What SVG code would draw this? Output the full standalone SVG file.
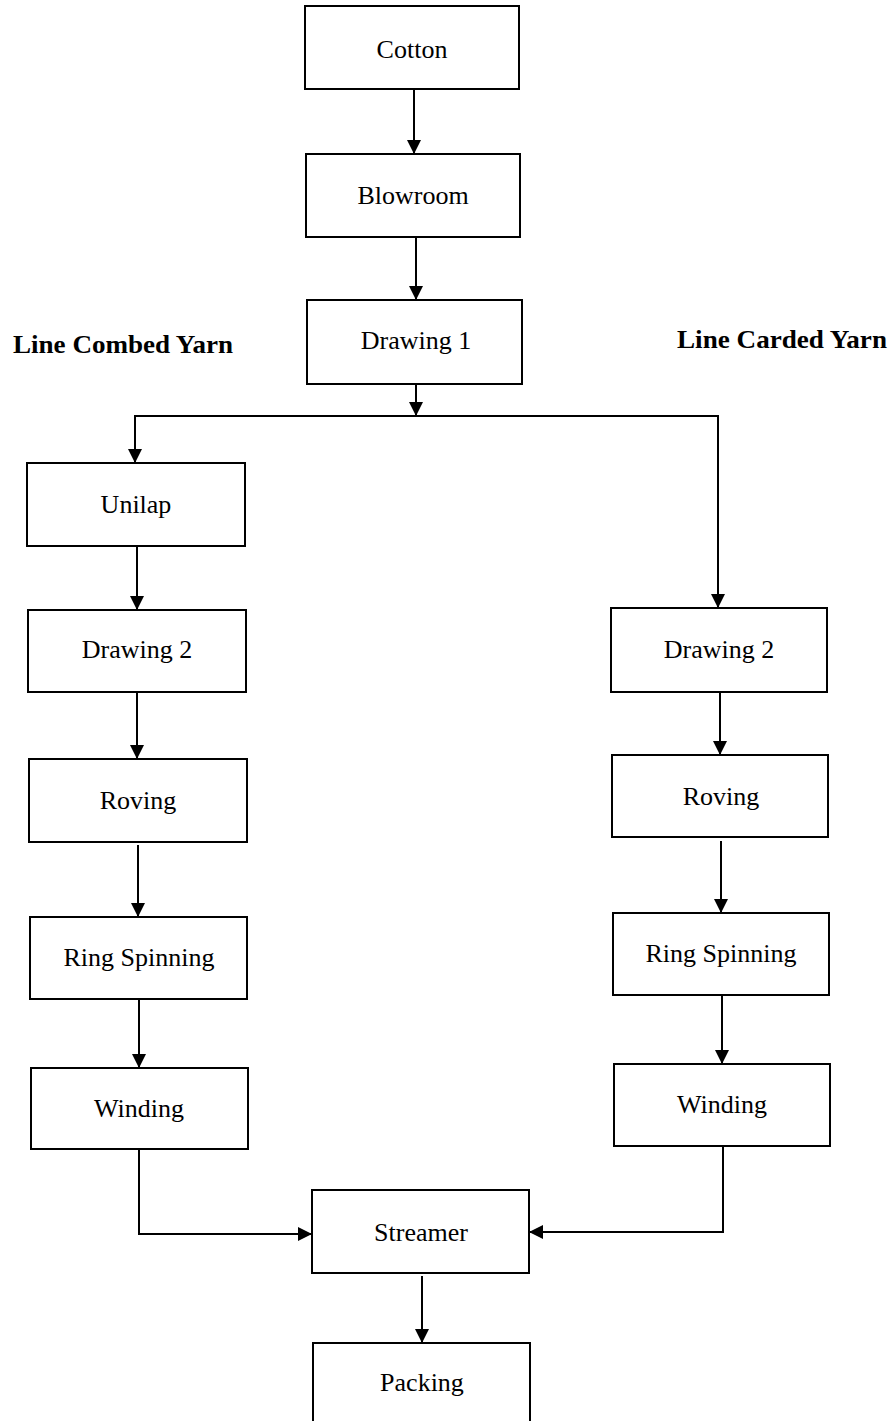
<svg xmlns="http://www.w3.org/2000/svg" width="894" height="1421" viewBox="0 0 894 1421">
<style>
.box{fill:#fff;stroke:#000;stroke-width:2}
.lbl{font-family:"Liberation Serif","Times New Roman",serif;font-size:26px;text-anchor:middle;fill:#000}
.head{font-family:"Liberation Serif","Times New Roman",serif;font-size:26px;font-weight:bold;fill:#000}
.con{fill:none;stroke:#000;stroke-width:2}
</style>
<defs>
<marker id="arr" markerUnits="userSpaceOnUse" markerWidth="14" markerHeight="14" refX="14" refY="7" orient="auto">
<path d="M0,0 L14,7 L0,14 z" fill="#000"/>
</marker>
</defs>
<rect width="894" height="1421" fill="#fff"/>
<text class="head" x="13" y="353" textLength="220" lengthAdjust="spacingAndGlyphs">Line Combed Yarn</text>
<text class="head" x="677" y="348" textLength="210" lengthAdjust="spacingAndGlyphs">Line Carded Yarn</text>
<g id="connectors">
<path class="con" d="M414,89 V154" marker-end="url(#arr)"/>
<path class="con" d="M416,237 V300" marker-end="url(#arr)"/>
<path class="con" d="M416,384 V416" marker-end="url(#arr)"/>
<path class="con" d="M416,416 H135 V463" marker-end="url(#arr)"/>
<path class="con" d="M416,416 H718 V608" marker-end="url(#arr)"/>
<path class="con" d="M137,546 V610" marker-end="url(#arr)"/>
<path class="con" d="M137,692 V759" marker-end="url(#arr)"/>
<path class="con" d="M138,845 V917" marker-end="url(#arr)"/>
<path class="con" d="M139,999 V1068" marker-end="url(#arr)"/>
<path class="con" d="M139,1149 V1234 H312" marker-end="url(#arr)"/>
<path class="con" d="M720,692 V755" marker-end="url(#arr)"/>
<path class="con" d="M721,841 V913" marker-end="url(#arr)"/>
<path class="con" d="M722,995 V1064" marker-end="url(#arr)"/>
<path class="con" d="M723,1146 V1232 H529" marker-end="url(#arr)"/>
<path class="con" d="M422,1276 V1343" marker-end="url(#arr)"/>
</g>
<g id="cotton"><rect class="box" x="305" y="6" width="214" height="83"/><text class="lbl" x="412" y="58">Cotton</text></g>
<g id="blowroom"><rect class="box" x="306" y="154" width="214" height="83"/><text class="lbl" x="413" y="204">Blowroom</text></g>
<g id="drawing1"><rect class="box" x="307" y="300" width="215" height="84"/><text class="lbl" x="416" y="349">Drawing 1</text></g>
<g id="unilap"><rect class="box" x="27" y="463" width="218" height="83"/><text class="lbl" x="136" y="513">Unilap</text></g>
<g id="drawing2-left"><rect class="box" x="28" y="610" width="218" height="82"/><text class="lbl" x="137" y="658">Drawing 2</text></g>
<g id="roving-left"><rect class="box" x="29" y="759" width="218" height="83"/><text class="lbl" x="138" y="809">Roving</text></g>
<g id="ring-left"><rect class="box" x="30" y="917" width="217" height="82"/><text class="lbl" x="139" y="966">Ring Spinning</text></g>
<g id="winding-left"><rect class="box" x="31" y="1068" width="217" height="81"/><text class="lbl" x="139" y="1117">Winding</text></g>
<g id="drawing2-right"><rect class="box" x="611" y="608" width="216" height="84"/><text class="lbl" x="719" y="658">Drawing 2</text></g>
<g id="roving-right"><rect class="box" x="612" y="755" width="216" height="82"/><text class="lbl" x="721" y="805">Roving</text></g>
<g id="ring-right"><rect class="box" x="613" y="913" width="216" height="82"/><text class="lbl" x="721" y="962">Ring Spinning</text></g>
<g id="winding-right"><rect class="box" x="614" y="1064" width="216" height="82"/><text class="lbl" x="722" y="1113">Winding</text></g>
<g id="streamer"><rect class="box" x="312" y="1190" width="217" height="83"/><text class="lbl" x="421" y="1241">Streamer</text></g>
<g id="packing"><rect class="box" x="313" y="1343" width="217" height="90"/><text class="lbl" x="422" y="1391">Packing</text></g>
</svg>
